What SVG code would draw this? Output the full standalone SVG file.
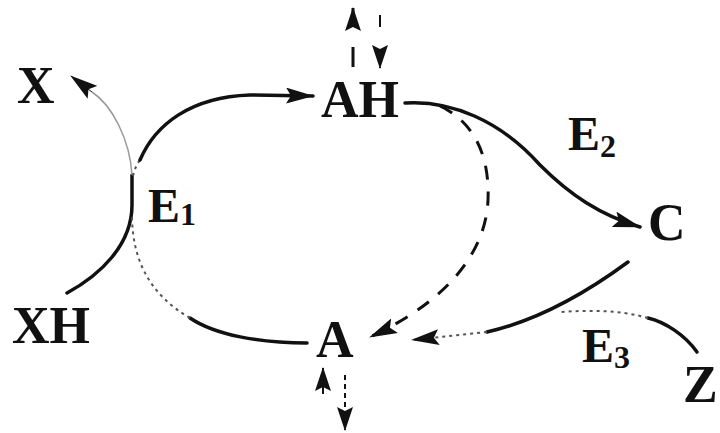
<svg xmlns="http://www.w3.org/2000/svg" width="720" height="433" viewBox="0 0 720 433">
<style>
.lbl{font-family:"Liberation Serif","Times New Roman",serif;font-weight:bold;font-size:52px;fill:#111}
.enz{font-family:"Liberation Serif","Times New Roman",serif;font-weight:bold;font-size:48px;fill:#111}
.sub{font-size:32px}
.ln{fill:none;stroke:#111;stroke-width:3.5;stroke-linecap:round}
.faint{fill:none;stroke:#555;stroke-width:2;stroke-dasharray:3 4}
.dash{fill:none;stroke:#111;stroke-width:3;stroke-dasharray:14 12}
</style>
<defs>
<marker id="ah" viewBox="0 0 28 16" refX="27" refY="8" markerWidth="28" markerHeight="16" markerUnits="userSpaceOnUse" orient="auto">
<path d="M0 0 L28 8 L0 16 L5 8 Z" fill="#111"/>
</marker>
<marker id="sm" viewBox="0 0 24 16" refX="23" refY="8" markerWidth="24" markerHeight="16" markerUnits="userSpaceOnUse" orient="auto">
<path d="M0 0 L24 8 L0 16 L4 8 Z" fill="#111"/>
</marker>
</defs>
<rect width="720" height="433" fill="#fff"/>
<g id="connectors">
<!-- XH -> X via E1 -->
<path class="ln" d="M 67 293 C 100 275, 132 245, 132 205 L 132 175"/>
<path fill="none" stroke="#999" stroke-width="1.5" d="M 132 175 C 130 140, 112 105, 92 92"/>
<path d="M 92 92 L 71 76" fill="none" stroke="#111" stroke-width="1" marker-end="url(#ah)"/>
<!-- A -> AH via E1 -->
<path class="ln" d="M 307 343 C 260 343, 215 335, 190 318"/>
<path class="faint" d="M 190 318 C 150 295, 132 260, 132 215"/>
<path class="faint" d="M 133 176 C 135 168, 137 164, 140 160"/>
<path class="ln" d="M 140 160 C 155 125, 190 97, 250 95 L 313 96" marker-end="url(#ah)"/>
<!-- AH -> C via E2 -->
<path class="ln" d="M 405 103 C 450 100, 500 120, 540 165 C 570 195, 600 215, 640 227" marker-end="url(#ah)"/>
<!-- AH -> A dashed -->
<path class="dash" d="M 440 106 C 470 120, 490 150, 488 200 C 486 250, 450 300, 370 337" marker-end="url(#ah)"/>
<!-- C -> A via E3 -->
<path class="ln" d="M 628 262 C 590 290, 540 320, 487 332"/>
<path class="faint" d="M 487 332 L 412 340" marker-end="url(#ah)"/>
<!-- Z -> E3 -->
<path class="ln" d="M 697 352 C 685 335, 665 322, 648 318"/>
<path class="faint" d="M 648 318 C 620 310, 590 310, 560 312"/>
<!-- AH vertical arrows -->
<path d="M 353 67 V 8" fill="none" stroke="#111" stroke-width="3" stroke-dasharray="20 30" marker-end="url(#sm)"/>
<path d="M 380 15 V 68" fill="none" stroke="#111" stroke-width="2" stroke-dasharray="12 40" marker-end="url(#sm)"/>
<!-- A vertical arrows -->
<path d="M 323 394 V 368" fill="none" stroke="#111" stroke-width="2" marker-end="url(#sm)"/>
<path d="M 345 375 V 430" fill="none" stroke="#111" stroke-width="2" stroke-dasharray="5 4" marker-end="url(#sm)"/>
</g>
<g id="node-X"><text class="lbl" x="17" y="103">X</text></g>
<g id="node-XH"><text class="lbl" x="12" y="343">XH</text></g>
<g id="node-AH"><text class="lbl" x="321" y="117">AH</text></g>
<g id="node-A"><text class="lbl" x="316" y="357">A</text></g>
<g id="node-C"><text class="lbl" x="648" y="240">C</text></g>
<g id="node-Z"><text class="lbl" x="683" y="402">Z</text></g>
<g id="label-E1"><text class="enz" x="148" y="222">E<tspan class="sub" dy="3">1</tspan></text></g>
<g id="label-E2"><text class="enz" x="568" y="150">E<tspan class="sub" dy="7">2</tspan></text></g>
<g id="label-E3"><text class="enz" x="582" y="362">E<tspan class="sub" dy="6">3</tspan></text></g>
</svg>
